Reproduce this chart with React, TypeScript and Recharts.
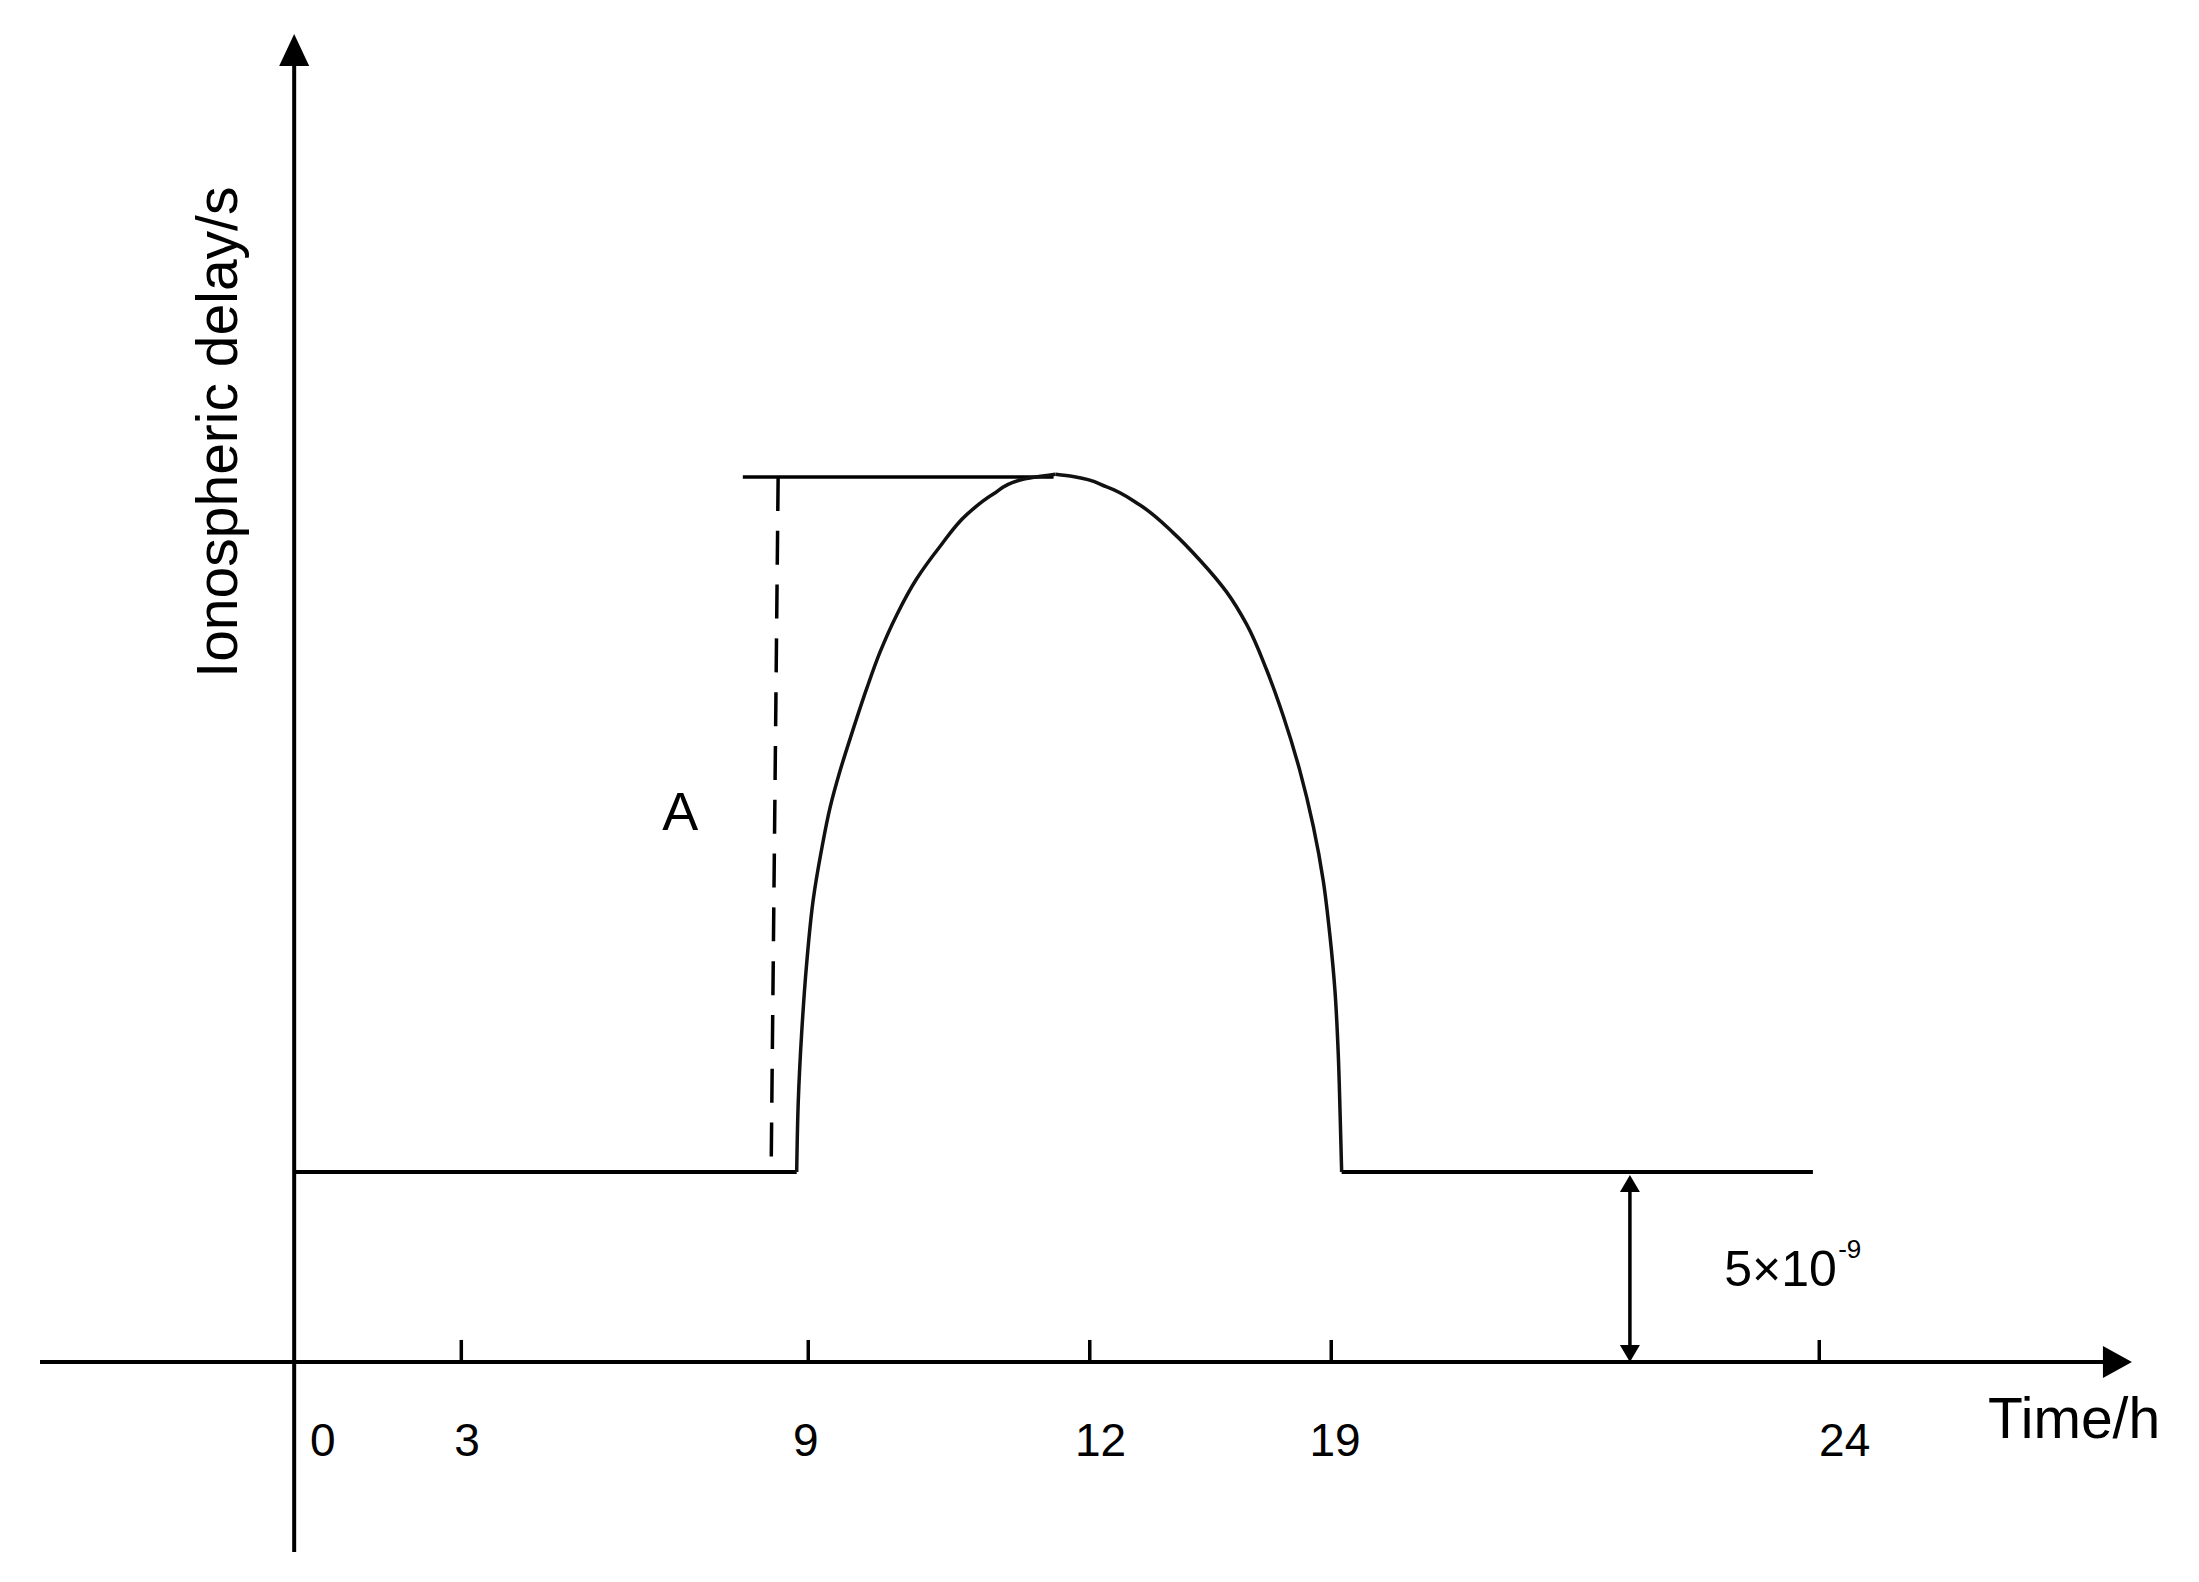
import React from 'react';
import { ComposedChart, Line, Scatter, XAxis, YAxis, ReferenceLine, ReferenceDot } from 'recharts';

// x = schematic position along the time axis (y-axis = 0, the "24" tick = 24)
// y = ionospheric delay in units of 1e-9 s
const tickPos = [2.63, 8.09, 12.52, 16.32, 24];
const tickLabels = ['0', '3', '9', '12', '19', '24'];
const tickLabelPos = [0.45, 2.72, 8.05, 12.69, 16.38, 24.4];
const tickLabelY = -2.05;

const nightDelay = 5; // 5x10^-9 s
const baseLeftPos = [0, 7.908];
const baseRightPos = [16.484, 23.9];

// daytime bump: rising flank and falling flank, both from the base up to the peak
const risePos = [7.908, 7.933, 7.987, 8.065, 8.169, 8.301, 8.432, 8.589, 8.773, 9.009, 9.219, 9.482, 9.796, 10.163, 10.583, 11.002, 11.422, 11.98];
const riseDelay = [5, 6.87, 8.68, 10.49, 12.18, 13.5, 14.58, 15.55, 16.53, 17.72, 18.68, 19.66, 20.61, 21.46, 22.3, 22.84, 23.21, 23.36];
const fallPos = [16.484, 16.46, 16.431, 16.379, 16.3, 16.195, 16.037, 15.828, 15.565, 15.304, 14.989, 14.675, 14.254, 13.834, 13.31, 12.786, 12.256, 11.98];
const fallDelay = [5, 6.5, 8.08, 9.76, 11.21, 12.66, 14.1, 15.55, 17.0, 18.21, 19.41, 20.26, 21.1, 21.82, 22.55, 23.03, 23.3, 23.36];

const peakLinePos = [7.06, 11.95];
const peakDelay = 23.29;
const amplitudePos = [7.616, 7.508];
const amplitudeDelay = [23.29, 5.4];
const offsetArrowPos = 21.02;

const xDomain = [-4, 29];
const yDomain = [-5, 35];
const xAxisEnd = 28.6;
const xArrowTip = 28.92;
const yArrowTip = 34.95;

const toPoints = (xs: number[], ys: number[]) => xs.map((x, i) => ({ x, y: ys[i] }));
const riseData = toPoints(risePos, riseDelay);
const fallData = toPoints(fallPos, fallDelay);
const baseLeft = baseLeftPos.map((x) => ({ x, y: nightDelay }));
const baseRight = baseRightPos.map((x) => ({ x, y: nightDelay }));
const peakLine = peakLinePos.map((x) => ({ x, y: peakDelay }));

const ArrowUp = ({ cx, cy }: any) => (
  <polygon points={`${cx},${cy} ${cx - 15},${cy + 32} ${cx + 15},${cy + 32}`} fill="#000" />
);
const ArrowRight = ({ cx, cy }: any) => (
  <polygon points={`${cx},${cy} ${cx - 29},${cy - 16} ${cx - 29},${cy + 16}`} fill="#000" />
);
const SmallUp = ({ cx, cy }: any) => (
  <polygon points={`${cx},${cy} ${cx - 10},${cy + 17} ${cx + 10},${cy + 17}`} fill="#000" />
);
const SmallDown = ({ cx, cy }: any) => (
  <polygon points={`${cx},${cy} ${cx - 10},${cy - 17} ${cx + 10},${cy - 17}`} fill="#000" />
);

const txt = (value: string, fontSize: number, angle = 0) => ({
  value,
  position: 'center' as const,
  fontSize,
  fill: '#000',
  angle,
});

export default function App() {
  return (
    <div style={{ position: 'absolute', left: 0, top: 0, background: '#fff', fontFamily: '"Liberation Sans", Arial, sans-serif' }}>
      <ComposedChart width={2199} height={1582} margin={{ top: 32, right: 62, bottom: 30, left: 40 }}>
        <XAxis type="number" dataKey="x" domain={xDomain} allowDataOverflow hide />
        <YAxis type="number" dataKey="y" domain={yDomain} allowDataOverflow hide />

        {/* axes */}
        <ReferenceLine segment={[{ x: xDomain[0], y: 0 }, { x: xAxisEnd, y: 0 }]} stroke="#000" strokeWidth={4} ifOverflow="visible" />
        <ReferenceLine segment={[{ x: 0, y: yDomain[0] }, { x: 0, y: 34.5 }]} stroke="#000" strokeWidth={4} ifOverflow="visible" />
        {tickPos.map((p) => (
          <ReferenceLine key={p} segment={[{ x: p, y: 0 }, { x: p, y: 0.58 }]} stroke="#000" strokeWidth={3.5} ifOverflow="visible" />
        ))}
        <Scatter data={[{ x: 0, y: yArrowTip }]} dataKey="y" shape={ArrowUp} isAnimationActive={false} />
        <Scatter data={[{ x: xArrowTip, y: 0 }]} dataKey="y" shape={ArrowRight} isAnimationActive={false} />

        {/* amplitude markers */}
        <Line data={peakLine} dataKey="y" stroke="#000" strokeWidth={3.5} dot={false} activeDot={false} type="linear" isAnimationActive={false} />
        <ReferenceLine
          segment={[{ x: amplitudePos[0], y: amplitudeDelay[0] }, { x: amplitudePos[1], y: amplitudeDelay[1] }]}
          stroke="#000"
          strokeWidth={3.5}
          strokeDasharray="34 19.8"
          ifOverflow="visible"
        />

        {/* night-time constant and its double arrow */}
        <ReferenceLine segment={[{ x: offsetArrowPos, y: 0.3 }, { x: offsetArrowPos, y: nightDelay - 0.3 }]} stroke="#000" strokeWidth={3.5} ifOverflow="visible" />
        <Scatter data={[{ x: offsetArrowPos, y: nightDelay - 0.08 }]} dataKey="y" shape={SmallUp} isAnimationActive={false} />
        <Scatter data={[{ x: offsetArrowPos, y: 0 }]} dataKey="y" shape={SmallDown} isAnimationActive={false} />

        <Line data={baseLeft} dataKey="y" stroke="#000" strokeWidth={4} dot={false} activeDot={false} type="linear" isAnimationActive={false} />
        <Line data={baseRight} dataKey="y" stroke="#000" strokeWidth={4} dot={false} activeDot={false} type="linear" isAnimationActive={false} />
        <Line data={riseData} dataKey="y" stroke="#111" strokeWidth={3.5} dot={false} activeDot={false} type="monotoneY" isAnimationActive={false} />
        <Line data={fallData} dataKey="y" stroke="#111" strokeWidth={3.5} dot={false} activeDot={false} type="monotoneY" isAnimationActive={false} />

        {/* texts */}
        {tickLabels.map((t, i) => (
          <ReferenceDot key={t} x={tickLabelPos[i]} y={tickLabelY} r={0} fill="none" stroke="none" label={txt(t, 46)} />
        ))}
        <ReferenceDot x={28.01} y={-1.46} r={0} fill="none" stroke="none" label={txt('Time/h', 57)} />
        <ReferenceDot x={-1.215} y={24.47} r={0} fill="none" stroke="none" label={txt('Ionospheric delay/s', 57, -90)} />
        <ReferenceDot x={6.074} y={14.5} r={0} fill="none" stroke="none" label={txt('A', 54)} />
        <ReferenceDot x={23.39} y={2.46} r={0} fill="none" stroke="none" label={txt('5×10', 50)} />
        <ReferenceDot x={24.48} y={2.97} r={0} fill="none" stroke="none" label={txt('-9', 26)} />
      </ComposedChart>
    </div>
  );
}
